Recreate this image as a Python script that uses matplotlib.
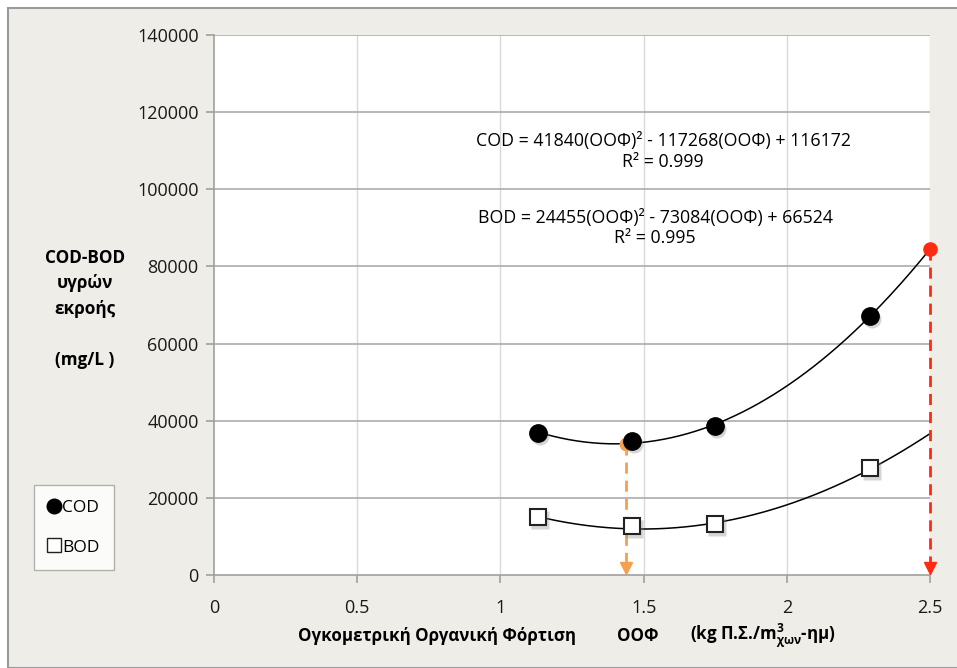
import matplotlib
matplotlib.use("Agg")
import matplotlib.pyplot as plt
from matplotlib.patches import Rectangle
from matplotlib.lines import Line2D
import matplotlib.transforms as mtransforms
import numpy as np

plt.rcParams['font.family'] = ['Open Sans', 'DejaVu Sans']
plt.rcParams['mathtext.default'] = 'regular'

# Data
oof = [1.13, 1.46, 1.75, 2.29]
cod = [36800, 34700, 38600, 67100]
bod = [15000, 12700, 13200, 27700]
cod_coef = [41840, -117268, 116172]
bod_coef = [24455, -73084, 66524]
fit_range = [1.13, 2.5]
orange_x = 1.44
red_x = 2.5
x_ticks = [0, 0.5, 1, 1.5, 2, 2.5]
x_ticklabels = ['0', '0.5', '1', '1.5', '2', '2.5']
y_ticks = [0, 20000, 40000, 60000, 80000, 100000, 120000, 140000]
cod_eq = "COD = 41840(ΟΟΦ)² - 117268(ΟΟΦ) + 116172\nR² = 0.999"
bod_eq = "BOD = 24455(ΟΟΦ)² - 73084(ΟΟΦ) + 66524\nR² = 0.995"
ylabel = "COD-BOD\nυγρών\nεκροής\n\n(mg/L )"
xlabel_parts = ["Ογκομετρική Οργανική Φόρτιση", "ΟΟΦ", "(kg Π.Σ./m$^{3}_{χων}$-ημ)"]

W, H = 957, 668
fig = plt.figure(figsize=(W / 100, H / 100), dpi=100)
fig.patch.set_facecolor('white')
bg = Rectangle((8 / W, 0), 1, 1 - 8 / H, transform=fig.transFigure,
               facecolor='#EEEDE7', edgecolor='#9A9A9A', linewidth=1.5, zorder=-10)
fig.patches.append(bg)

ax = fig.add_axes([214 / W, 1 - 575 / H, (930 - 214) / W, (575 - 35) / H])
ax.set_facecolor('white')
ax.set_xlim(0, 2.5)
ax.set_ylim(0, 140000)

for y in y_ticks[1:]:
    ax.axhline(y, color='#ABABAB', lw=1.2, zorder=1)
for x in x_ticks[1:]:
    ax.axvline(x, color='#D9D9D9', lw=1.0, zorder=0.9)

for s in ['top', 'right']:
    ax.spines[s].set_visible(False)
for s in ['left', 'bottom']:
    ax.spines[s].set_color('#A0A0A0')
    ax.spines[s].set_linewidth(1.2)

ax.set_xticks(x_ticks)
ax.set_xticklabels(x_ticklabels)
ax.set_yticks(y_ticks)
ax.set_yticklabels([str(v) for v in y_ticks])
ax.tick_params(axis='both', colors='#A0A0A0', labelcolor='#1a1a1a', labelsize=13,
               length=6, width=1.2, direction='out')
ax.tick_params(axis='x', pad=11)
ax.tick_params(axis='y', pad=5)

# fit curves
xx = np.linspace(fit_range[0], fit_range[1], 200)
ax.plot(xx, np.polyval(cod_coef, xx), color='black', lw=1.1, zorder=3)
ax.plot(xx, np.polyval(bod_coef, xx), color='black', lw=1.1, zorder=3)

# arrows
oy = np.polyval(cod_coef, orange_x)
ry = np.polyval(cod_coef, red_x)
ax.plot([orange_x, orange_x], [oy, 2500], color='#F5A04E', lw=2, ls=(0, (4, 2.5)), zorder=4)
ax.plot([orange_x], [1800], marker='v', color='#F5A04E', ms=9, zorder=4, clip_on=False)
ax.plot([orange_x], [oy], marker='o', color='#F5A04E', ms=9, zorder=4)
ax.plot([red_x, red_x], [ry, 2500], color='#FF2A12', lw=2, ls=(0, (4, 2.5)), zorder=4, clip_on=False)
ax.plot([red_x], [1800], marker='v', color='#FF2A12', ms=9, zorder=4, clip_on=False)
ax.plot([red_x], [ry], marker='o', color='#FF2A12', ms=9.5, zorder=4, clip_on=False)

# soft shadows
shadow = mtransforms.offset_copy(ax.transData, fig=fig, x=1.5, y=-2.0, units='points')
ax.plot(oof, cod, ls='none', marker='o', ms=13, mfc='#888888', mec='none', alpha=0.35,
        transform=shadow, zorder=4.5)
ax.plot(oof, bod, ls='none', marker='s', ms=12.5, mfc='#888888', mec='none', alpha=0.35,
        transform=shadow, zorder=4.5)

# points
ax.plot(oof, cod, ls='none', marker='o', ms=12.5, mfc='black', mec='black', zorder=5)
ax.plot(oof, bod, ls='none', marker='s', ms=12, mfc='white', mec='#222222', mew=1.5, zorder=5)

ax.text(1.568, 109800, cod_eq, ha='center', va='center', fontsize=12.8, linespacing=1.15, zorder=6)
ax.text(1.54, 90000, bod_eq, ha='center', va='center', fontsize=12.8, linespacing=1.15, zorder=6)

fig.text(85 / W, 1 - 309 / H, ylabel, ha='center', va='center', fontsize=12.3,
         fontweight='bold', linespacing=1.55)

fs_x = 12.2
fig.text(298 / W, 1 - 636 / H, xlabel_parts[0], ha='left', va='center', fontsize=fs_x, fontweight='bold')
fig.text(617 / W, 1 - 636 / H, xlabel_parts[1], ha='left', va='center', fontsize=fs_x, fontweight='bold')
fig.text(690 / W, 1 - 636 / H, xlabel_parts[2], ha='left', va='center', fontsize=fs_x, fontweight='bold')

handles = [Line2D([], [], ls='none', marker='o', ms=10.5, mfc='black', mec='black'),
           Line2D([], [], ls='none', marker='s', ms=10.5, mfc='white', mec='#222222')]
leg = fig.legend(handles, ['COD', 'BOD'], loc='upper left', bbox_to_anchor=(34 / W, 1 - 485 / H),
                 borderaxespad=0, frameon=True, fancybox=False, fontsize=12.5, handlelength=0.6,
                 handletextpad=0.15, labelspacing=1.35, borderpad=0.85)
leg.get_frame().set_edgecolor('#A0A0A0')
leg.get_frame().set_linewidth(1.0)

fig.savefig('out.png', dpi=100, facecolor=fig.get_facecolor())
